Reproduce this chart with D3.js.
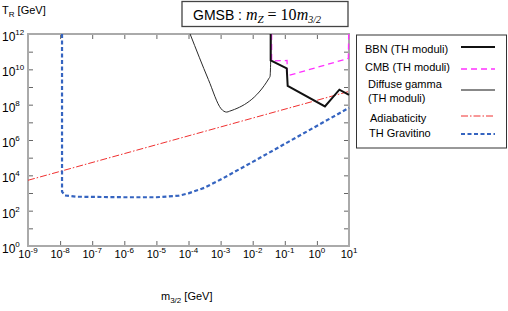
<!DOCTYPE html>
<html>
<head>
<meta charset="utf-8">
<script src="https://cdn.jsdelivr.net/npm/d3@7"></script>
<style>
  body { margin: 0; background: #fff; }
  svg { font-family: "Liberation Sans", Arial, sans-serif; }
</style>
</head>
<body>
<div id="chart"></div>
<script>
// values are log10(m3/2 / GeV) and log10(T_R / GeV)
var xDecades = [-9, -8, -7, -6, -5, -4, -3, -2, -1, 0, 1];
var yDecades = [0, 2, 4, 6, 8, 10, 12];
var yMinor = [1, 3, 5, 7, 9, 11];

var bbnLogM = [-1.44, -1.44, -0.94, -0.91, 0.25, 0.70, 1.0];
var bbnLogT = [12, 10.51, 10.06, 9.06, 7.9, 8.85, 8.55];

var cmbLogM = [-1.41, -1.41, -0.93, -0.92, 0.98, 0.99];
var cmbLogT = [12, 10.48, 10.5, 9.63, 10.62, 12];

var gammaLogM = [-3.95, -3.38, -2.98, -2.9, -2.81, -2.72, -1.49, -1.46, -1.44, -1.43];
var gammaLogT = [12, 9.42, 7.76, 7.63, 7.58, 7.63, 9.5, 9.6, 10.5, 12];

var adiaLogM = [-9, 1];
var adiaLogT = [3.72, 8.75];

var gravLogM = [-7.94, -7.94, -7.85, -7.5, -6, -5, -4.3, -4, -3.5, -3, -2, 1];
var gravLogT = [12, 3.08, 2.86, 2.79, 2.76, 2.76, 2.85, 2.98, 3.3, 3.76, 4.76, 7.82];

var legendLabels = [["BBN (TH moduli)"], ["CMB (TH moduli)"], ["Diffuse gamma", "(TH moduli)"], ["Adiabaticity"], ["TH Gravitino"]];

var W = 508, H = 311;
var pL = 28, pR = 349, pT = 34, pB = 246;

var svg = d3.select("#chart").append("svg")
    .attr("width", W)
    .attr("height", H);

var x = d3.scaleLog().domain([1e-9, 10]).range([pL, pR]);
var y = d3.scaleLog().domain([1, 1e12]).range([pB, pT]);

function toPts(lm, lt) {
    return lm.map(function (d, i) { return [Math.pow(10, d), Math.pow(10, lt[i])]; });
}

var line = d3.line().x(d => x(d[0])).y(d => y(d[1]));

// axes with inside ticks
var xv = xDecades.map(d => Math.pow(10, d));
var yv = yDecades.concat(yMinor).map(d => Math.pow(10, d));

function styleAxis(g) {
    g.select(".domain").remove();
    g.selectAll(".tick line").attr("stroke", "#666").attr("stroke-width", 1);
}

svg.append("g").attr("transform", "translate(0," + pB + ")")
    .call(d3.axisBottom(x).tickValues(xv).tickSize(-5).tickFormat(""))
    .call(styleAxis);
svg.append("g").attr("transform", "translate(0," + pT + ")")
    .call(d3.axisTop(x).tickValues(xv).tickSize(-5).tickFormat(""))
    .call(styleAxis);
svg.append("g").attr("transform", "translate(" + pL + ",0)")
    .call(d3.axisLeft(y).tickValues(yv).tickSize(-5).tickFormat(""))
    .call(styleAxis);
svg.append("g").attr("transform", "translate(" + pR + ",0)")
    .call(d3.axisRight(y).tickValues(yv).tickSize(-5).tickFormat(""))
    .call(styleAxis);

// frame
svg.append("rect")
    .attr("x", pL).attr("y", pT)
    .attr("width", pR - pL).attr("height", pB - pT)
    .attr("fill", "none").attr("stroke", "#aaa").attr("stroke-width", 2);

// tick labels 10^n
xDecades.forEach(function (e) {
    var t = svg.append("text")
        .attr("x", x(Math.pow(10, e)))
        .attr("y", pB + 12)
        .attr("text-anchor", "middle")
        .attr("font-size", 11);
    t.append("tspan").text("10");
    t.append("tspan").attr("dy", -5).attr("font-size", 8).text(e < 0 ? "-" + (-e) : e);
});
yDecades.forEach(function (e) {
    var t = svg.append("text")
        .attr("x", 2)
        .attr("y", y(Math.pow(10, e)) + 7)
        .attr("font-size", 12);
    t.append("tspan").text("10");
    t.append("tspan").attr("dy", -6).attr("font-size", 8).text(e);
});

// axis titles
var yt = svg.append("text").attr("x", 2).attr("y", 14).attr("font-size", 11);
yt.append("tspan").text("T");
yt.append("tspan").attr("dy", 3).attr("font-size", 8).text("R");
yt.append("tspan").attr("dy", -3).text(" [GeV]");

var xt = svg.append("text").attr("x", 161).attr("y", 300).attr("font-size", 11);
xt.append("tspan").text("m");
xt.append("tspan").attr("dy", 3).attr("font-size", 8).text("3/2");
xt.append("tspan").attr("dy", -3).text(" [GeV]");

// curves
svg.append("clipPath").attr("id", "clip").append("rect")
    .attr("x", pL).attr("y", pT - 1).attr("width", pR - pL + 1).attr("height", pB - pT + 1);
var plot = svg.append("g").attr("clip-path", "url(#clip)");

var series = [
    { pts: toPts(adiaLogM, adiaLogT), color: "#f03030", w: 1, dash: "7,2,1.5,2" },
    { pts: toPts(gravLogM, gravLogT), color: "#3564c0", w: 2.2, dash: "4,2.5" },
    { pts: toPts(gammaLogM, gammaLogT), color: "#2a2a2a", w: 1, dash: null, curve: true },
    { pts: toPts(cmbLogM, cmbLogT), color: "#ff30ff", w: 1.3, dash: "6,4" },
    { pts: toPts(bbnLogM, bbnLogT), color: "#111", w: 2, dash: null }
];
series.forEach(function (s) {
    var ln = s.curve ? d3.line().x(d => x(d[0])).y(d => y(d[1])).curve(d3.curveMonotoneX) : line;
    plot.append("path")
        .attr("d", ln(s.pts))
        .attr("fill", "none")
        .attr("stroke", s.color)
        .attr("stroke-width", s.w)
        .attr("stroke-dasharray", s.dash);
});

// title box
svg.append("rect")
    .attr("x", 182).attr("y", 1.5).attr("width", 166).attr("height", 25)
    .attr("fill", "#fff").attr("stroke", "#444").attr("stroke-width", 1.3);
var tt = svg.append("text").attr("x", 193).attr("y", 20).attr("font-size", 14);
tt.append("tspan").text("GMSB :  ");
var serif = "'Liberation Serif', 'Times New Roman', serif";
tt.append("tspan").attr("font-family", serif).attr("font-style", "italic").attr("font-size", 16).text("m");
tt.append("tspan").attr("font-family", serif).attr("font-style", "italic").attr("font-size", 11).attr("dy", 3).text("Z");
tt.append("tspan").attr("font-family", serif).attr("font-size", 16).attr("dy", -3).text(" = 10");
tt.append("tspan").attr("font-family", serif).attr("font-style", "italic").attr("font-size", 16).text("m");
tt.append("tspan").attr("font-family", serif).attr("font-style", "italic").attr("font-size", 10).attr("dy", 3).text("3/2");

// legend
svg.append("rect")
    .attr("x", 356.5).attr("y", 35).attr("width", 150).attr("height", 113)
    .attr("fill", "#fff").attr("stroke", "#333").attr("stroke-width", 1);
var legX = [365, 365, 368, 370, 369];
var legY = [53, 71, 88, 122, 137];
var legLineY = [47, 69, 90, 116, 134];
var legStyle = [
    { color: "#111", w: 2, dash: null },
    { color: "#ff30ff", w: 1.3, dash: "6,4" },
    { color: "#888", w: 2, dash: null },
    { color: "#f03030", w: 1, dash: "7,2,1.5,2" },
    { color: "#3564c0", w: 2, dash: "4,2.5" }
];
legendLabels.forEach(function (lab, i) {
    lab.forEach(function (s, j) {
        svg.append("text").attr("x", legX[i]).attr("y", legY[i] + j * 14)
            .attr("font-size", 11).text(s);
    });
    svg.append("line")
        .attr("x1", 461).attr("x2", 495)
        .attr("y1", legLineY[i]).attr("y2", legLineY[i])
        .attr("stroke", legStyle[i].color)
        .attr("stroke-width", legStyle[i].w)
        .attr("stroke-dasharray", legStyle[i].dash);
});
</script>
</body>
</html>
